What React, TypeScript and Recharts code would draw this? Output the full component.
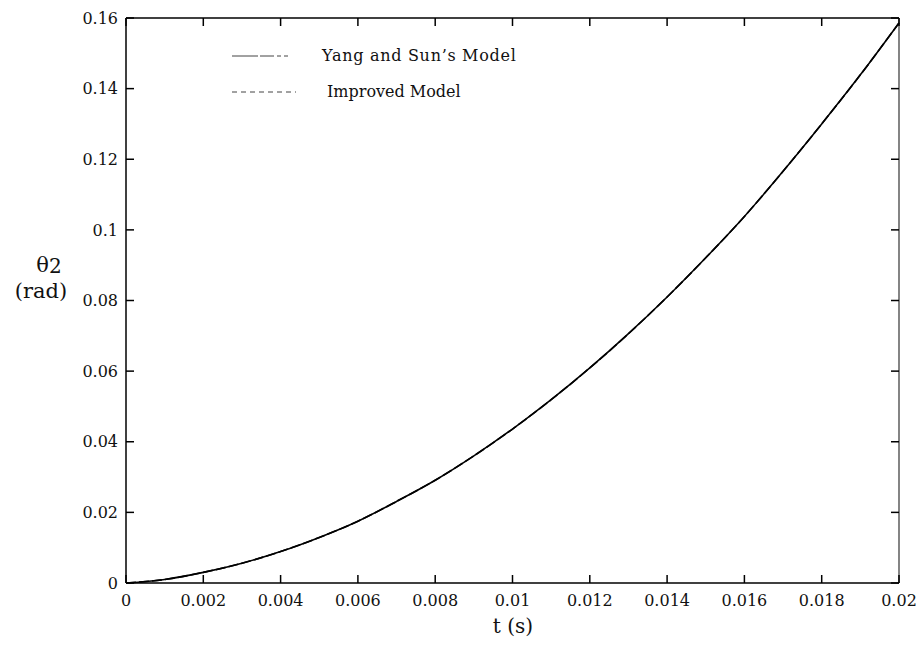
import { LineChart, Line, XAxis, YAxis, ReferenceLine } from 'recharts';

const timeS = [
  0, 0.001, 0.002, 0.003, 0.004, 0.005, 0.006, 0.007, 0.008, 0.009, 0.01,
  0.011, 0.012, 0.013, 0.014, 0.015, 0.016, 0.017, 0.018, 0.019, 0.02,
];
const yangSun = [
  0, 0.001, 0.003, 0.0056, 0.0089, 0.0129, 0.0175, 0.0231, 0.0291, 0.036, 0.0436,
  0.0519, 0.0609, 0.0706, 0.081, 0.0921, 0.1038, 0.1166, 0.13, 0.1439, 0.1586,
];
const improved = [
  0, 0.001, 0.003, 0.0056, 0.0089, 0.0129, 0.0175, 0.0231, 0.0291, 0.036, 0.0436,
  0.0519, 0.0609, 0.0706, 0.081, 0.0921, 0.1038, 0.1166, 0.13, 0.1439, 0.1586,
];
const xTicks = [0, 0.002, 0.004, 0.006, 0.008, 0.01, 0.012, 0.014, 0.016, 0.018, 0.02];
const yTicks = [0, 0.02, 0.04, 0.06, 0.08, 0.1, 0.12, 0.14, 0.16];

const data = timeS.map((t, i) => ({ t, yang: yangSun[i], improved: improved[i] }));

const FONT = '"DejaVu Serif", serif';
const X_MAX = 0.02;
const Y_MAX = 0.16;
const PLOT_W = 773;
const PLOT_H = 565;
const TICK_PX = 8;
// inward tick length in data units
const dx = (X_MAX * TICK_PX) / PLOT_W;
const dy = (Y_MAX * TICK_PX) / PLOT_H;

const frame = { stroke: '#000', strokeWidth: 1.5 };
const tickFont = { fontFamily: FONT, fontSize: 16, fill: '#111' };

export default function App() {
  return (
    <div style={{ position: 'absolute', left: 0, top: 0, width: 921, height: 646, background: '#fff' }}>
      <LineChart
        width={921}
        height={646}
        data={data}
        margin={{ top: 18, right: 22, bottom: 33, left: 66 }}
      >
        <XAxis
          dataKey="t"
          type="number"
          domain={[0, X_MAX]}
          ticks={xTicks}
          height={30}
          tickSize={0}
          tickMargin={12}
          stroke="#000"
          axisLine={frame}
          tickLine={false}
          tick={tickFont}
          tickFormatter={(v: number) => String(v)}
          interval={0}
        />
        <YAxis
          type="number"
          domain={[0, Y_MAX]}
          ticks={yTicks}
          width={60}
          tickSize={0}
          tickMargin={8}
          stroke="#000"
          axisLine={frame}
          tickLine={false}
          tick={tickFont}
          tickFormatter={(v: number) => String(v)}
          interval={0}
        />
        {/* top and right edges of the box */}
        <ReferenceLine y={Y_MAX} stroke="#000" strokeWidth={1.5} />
        <ReferenceLine x={X_MAX} stroke="#333" strokeWidth={1.2} />
        {/* inward tick marks on all four sides */}
        {xTicks.map((v) => (
          <ReferenceLine key={`b${v}`} segment={[{ x: v, y: 0 }, { x: v, y: dy }]} stroke="#000" strokeWidth={1.5} />
        ))}
        {xTicks.map((v) => (
          <ReferenceLine key={`t${v}`} segment={[{ x: v, y: Y_MAX }, { x: v, y: Y_MAX - dy }]} stroke="#000" strokeWidth={1.5} />
        ))}
        {yTicks.map((v) => (
          <ReferenceLine key={`l${v}`} segment={[{ x: 0, y: v }, { x: dx, y: v }]} stroke="#000" strokeWidth={1.5} />
        ))}
        {yTicks.map((v) => (
          <ReferenceLine key={`r${v}`} segment={[{ x: X_MAX, y: v }, { x: X_MAX - dx, y: v }]} stroke="#000" strokeWidth={1.5} />
        ))}
        <Line
          dataKey="yang"
          type="monotone"
          stroke="#000"
          strokeWidth={1.6}
          dot={false}
          isAnimationActive={false}
        />
        <Line
          dataKey="improved"
          type="monotone"
          stroke="#000"
          strokeWidth={1.6}
          strokeDasharray="10 3"
          dot={false}
          isAnimationActive={false}
        />
        {/* legend sits inside the plot, top left */}
        <g>
          <line x1={232} x2={296} y1={56} y2={56} stroke="#444" strokeWidth={1} strokeDasharray="26 2 14 3 4 3 4" />
          <text x={322} y={61} fontFamily={FONT} fontSize={16} letterSpacing={0.7} fill="#111">Yang and Sun’s Model</text>
          <line x1={232} x2={296} y1={92} y2={92} stroke="#444" strokeWidth={1} strokeDasharray="5 4" />
          <text x={327} y={97} fontFamily={FONT} fontSize={16} fill="#111">Improved Model</text>
        </g>
        <text x={49} y={272} textAnchor="middle" fontFamily={FONT} fontSize={21} fill="#111">
          θ<tspan fontSize={20} dy={1}>2</tspan>
        </text>
        <text x={41} y={298} textAnchor="middle" fontFamily={FONT} fontSize={21} fill="#111">(rad)</text>
        <text x={513} y={633} textAnchor="middle" fontFamily={FONT} fontSize={20} fill="#111">t (s)</text>
      </LineChart>
    </div>
  );
}
